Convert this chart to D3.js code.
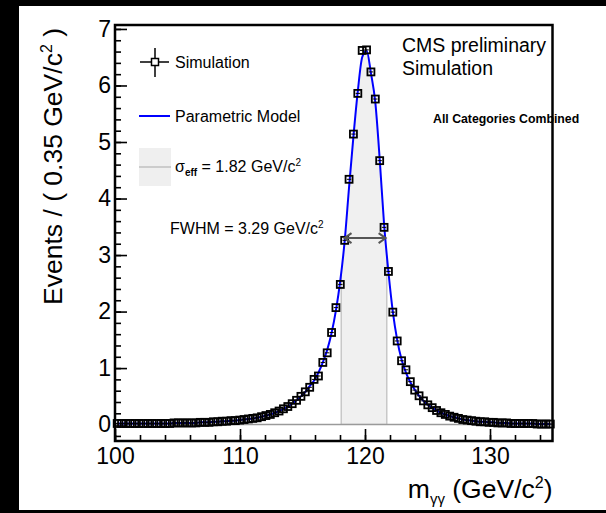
<!DOCTYPE html>
<html>
<head>
<meta charset="utf-8">
<script src="https://cdn.jsdelivr.net/npm/d3@7"></script>
<style>
    body { margin: 0; background: #000; }
    #chart { width: 606px; height: 513px; }
    text { font-family: "Liberation Sans", Arial, sans-serif; fill: #000; }
</style>
</head>
<body>
<div id="chart"></div>
<script>
// bins of 0.35 GeV between 100 and 135
const massLo = 100, massHi = 135, binWidth = 0.35;

// simulated events per bin
const simValues = [
    0.02, 0.02, 0.02, 0.02, 0.02, 0.02, 0.02, 0.02, 0.02, 0.02,
    0.02, 0.02, 0.02, 0.03, 0.03, 0.03, 0.03, 0.03, 0.03, 0.04,
    0.04, 0.04, 0.05, 0.05, 0.06, 0.06, 0.07, 0.07, 0.08, 0.09,
    0.10, 0.11, 0.12, 0.14, 0.16, 0.18, 0.21, 0.24, 0.28, 0.32,
    0.37, 0.43, 0.50, 0.58, 0.66, 0.80, 0.86, 1.10, 1.27, 1.63,
    2.07, 2.48, 3.26, 4.34, 5.14, 5.86, 6.62, 6.63, 6.24, 5.76,
    4.67, 3.49, 2.71, 1.99, 1.48, 1.13, 0.97, 0.76, 0.61, 0.51,
    0.42, 0.35, 0.30, 0.25, 0.21, 0.18, 0.15, 0.13, 0.11, 0.09,
    0.08, 0.07, 0.06, 0.05, 0.05, 0.04, 0.04, 0.03, 0.03, 0.03,
    0.02, 0.02, 0.02, 0.02, 0.02, 0.02, 0.01, 0.01, 0.01, 0.01
];

// parametric model evaluated at the bin centres
const modelValues = [
    0.02, 0.02, 0.02, 0.02, 0.02, 0.02, 0.02, 0.02, 0.02, 0.02,
    0.02, 0.02, 0.02, 0.03, 0.03, 0.03, 0.03, 0.03, 0.03, 0.04,
    0.04, 0.04, 0.05, 0.05, 0.06, 0.06, 0.07, 0.07, 0.08, 0.09,
    0.10, 0.11, 0.12, 0.14, 0.16, 0.18, 0.21, 0.24, 0.28, 0.32,
    0.37, 0.43, 0.50, 0.58, 0.68, 0.78, 0.92, 1.10, 1.32, 1.62,
    2.02, 2.55, 3.25, 4.20, 5.10, 5.90, 6.50, 6.62, 6.22, 5.70,
    4.70, 3.55, 2.70, 2.00, 1.50, 1.15, 0.92, 0.75, 0.62, 0.51,
    0.42, 0.35, 0.30, 0.25, 0.21, 0.18, 0.15, 0.13, 0.11, 0.09,
    0.08, 0.07, 0.06, 0.05, 0.05, 0.04, 0.04, 0.03, 0.03, 0.03,
    0.02, 0.02, 0.02, 0.02, 0.02, 0.02, 0.01, 0.01, 0.01, 0.01
];

const xTicks = [100, 110, 120, 130];
const yTicks = [0, 1, 2, 3, 4, 5, 6, 7];

// sigma_eff band and FWHM arrow
const sigmaBand = [118.1, 121.74];
const fwhmRange = [118.36, 121.65];
const halfMax = 3.3;

class MassVis {

    constructor(parentElement) {
        this.parentElement = parentElement;
        this.data = simValues.map((v, i) => ({
            m: massLo + binWidth * (i + 0.5),
            sim: v,
            model: modelValues[i]
        }));
        this.initVis();
    }

    initVis() {
        let vis = this;

        vis.margin = {top: 25, right: 53.5, bottom: 72, left: 115};
        vis.width = 606 - vis.margin.left - vis.margin.right;
        vis.height = 513 - vis.margin.top - vis.margin.bottom;

        vis.root = d3.select("#" + vis.parentElement).append("svg")
            .attr("width", 606)
            .attr("height", 513);

        // white canvas inside black border
        vis.root.append("rect")
            .attr("width", 606).attr("height", 513).attr("fill", "#000");
        vis.root.append("rect")
            .attr("x", 19).attr("y", 6)
            .attr("width", 587).attr("height", 504)
            .attr("fill", "#fff");

        vis.svg = vis.root.append("g")
            .attr("transform", `translate(${vis.margin.left}, ${vis.margin.top})`);

        vis.x = d3.scaleLinear()
            .domain([massLo, massHi])
            .range([0, vis.width]);

        vis.y = d3.scaleLinear()
            .domain([-0.29, 7.07])
            .range([vis.height, 0]);

        vis.drawAxes();
        vis.drawCurves();
        vis.drawLegend();
    }

    drawAxes() {
        let vis = this;

        // minor ticks
        vis.svg.append("g")
            .attr("class", "x-minor")
            .attr("transform", `translate(0, ${vis.height})`)
            .call(d3.axisBottom(vis.x).tickValues(d3.range(massLo, massHi + 0.01, 2)).tickSize(-6).tickFormat(""));

        vis.svg.append("g")
            .attr("class", "y-minor")
            .call(d3.axisLeft(vis.y).tickValues(d3.range(-0.2, 7.01, 0.2)).tickSize(-6).tickFormat(""));

        // major ticks
        vis.xAxis = vis.svg.append("g")
            .attr("class", "x-axis")
            .attr("transform", `translate(0, ${vis.height})`)
            .call(d3.axisBottom(vis.x).tickValues(xTicks).tickSize(-12).tickPadding(7).tickFormat(d3.format("d")));

        vis.yAxis = vis.svg.append("g")
            .attr("class", "y-axis")
            .call(d3.axisLeft(vis.y).tickValues(yTicks).tickSize(-12).tickPadding(4).tickFormat(d3.format("d")));

        vis.svg.selectAll(".domain").remove();
        vis.svg.selectAll(".tick line")
            .attr("stroke", "#000")
            .attr("stroke-width", 1.6);
        vis.svg.selectAll(".x-axis text, .y-axis text")
            .style("font-size", "23px")
            .attr("fill", "#000");

        // axis titles
        let xt = vis.svg.append("text")
            .attr("x", vis.width)
            .attr("y", vis.height + 57)
            .attr("text-anchor", "end")
            .style("font-size", "26.5px");
        xt.append("tspan").text("m");
        xt.append("tspan").attr("dy", 6).style("font-size", "15px").text("γγ");
        xt.append("tspan").attr("dy", -6).text(" (GeV/c");
        xt.append("tspan").attr("dy", -10).style("font-size", "16px").text("2");
        xt.append("tspan").attr("dy", 10).text(")");

        let yt = vis.svg.append("text")
            .attr("transform", `translate(${62 - vis.margin.left}, 3) rotate(-90)`)
            .attr("text-anchor", "end")
            .style("font-size", "26.5px");
        yt.append("tspan").text("Events / ( 0.35 GeV/c");
        yt.append("tspan").attr("dy", -10).style("font-size", "16px").text("2");
        yt.append("tspan").attr("dy", 10).text(" )");
    }

    drawCurves() {
        let vis = this;

        vis.clip = vis.svg.append("clipPath").attr("id", "under-model")
            .append("path")
            .datum(vis.data)
            .attr("d", d3.area()
                .x(d => vis.x(d.m))
                .y0(vis.y(0))
                .y1(d => vis.y(d.model))
                .curve(d3.curveMonotoneX));

        // sigma_eff band under the model
        vis.svg.append("rect")
            .attr("clip-path", "url(#under-model)")
            .attr("x", vis.x(sigmaBand[0]))
            .attr("y", 0)
            .attr("width", vis.x(sigmaBand[1]) - vis.x(sigmaBand[0]))
            .attr("height", vis.y(0))
            .attr("fill", "#f0f0f0")
            .attr("stroke", "#c8c8c8")
            .attr("stroke-width", 1.5);

        // baseline of the filled pdf
        vis.svg.append("line")
            .attr("x1", 0).attr("x2", vis.width)
            .attr("y1", vis.y(0)).attr("y2", vis.y(0))
            .attr("stroke", "#9a9a9a")
            .attr("stroke-width", 1.5);

        // model curve
        vis.svg.append("path")
            .datum(vis.data)
            .attr("fill", "none")
            .attr("stroke", "#0000ff")
            .attr("stroke-width", 2)
            .attr("d", d3.line()
                .x(d => vis.x(d.m))
                .y(d => vis.y(d.model))
                .curve(d3.curveMonotoneX));

        // simulation points: bin-width error bars + open squares
        let pts = vis.svg.append("g").attr("class", "points")
            .selectAll("g")
            .data(vis.data)
            .enter().append("g")
            .attr("transform", d => `translate(${vis.x(d.m)}, ${vis.y(d.sim)})`);

        pts.append("line")
            .attr("x1", -vis.x(massLo + binWidth / 2) + vis.x(massLo))
            .attr("x2", vis.x(massLo + binWidth / 2) - vis.x(massLo))
            .attr("stroke", "#000").attr("stroke-width", 1);

        pts.append("rect")
            .attr("x", -3.5).attr("y", -3.5)
            .attr("width", 7).attr("height", 7)
            .attr("fill", "none")
            .attr("stroke", "#000")
            .attr("stroke-width", 1.8);

        // FWHM arrow
        let ay = vis.y(halfMax);
        let ax0 = vis.x(fwhmRange[0]), ax1 = vis.x(fwhmRange[1]);
        vis.svg.append("path")
            .attr("d", `M${ax0},${ay}H${ax1}M${ax0 + 7},${ay - 5}L${ax0},${ay}L${ax0 + 7},${ay + 5}M${ax1 - 7},${ay - 5}L${ax1},${ay}L${ax1 - 7},${ay + 5}`)
            .attr("fill", "none")
            .attr("stroke", "#555")
            .attr("stroke-width", 2);
    }

    drawLegend() {
        let vis = this;
        let L = vis.root.append("g").style("font-size", "16px");

        // Simulation marker
        L.append("line").attr("x1", 140).attr("x2", 169).attr("y1", 62).attr("y2", 62)
            .attr("stroke", "#000").attr("stroke-width", 1.5);
        L.append("line").attr("x1", 155).attr("x2", 155).attr("y1", 48).attr("y2", 77)
            .attr("stroke", "#000").attr("stroke-width", 1.5);
        L.append("rect").attr("x", 151.5).attr("y", 58.5).attr("width", 7).attr("height", 7)
            .attr("fill", "#fff").attr("stroke", "#000").attr("stroke-width", 1.5);
        L.append("text").attr("x", 175).attr("y", 68).text("Simulation");

        // model line
        L.append("line").attr("x1", 139).attr("x2", 170).attr("y1", 116).attr("y2", 116)
            .attr("stroke", "#0000ff").attr("stroke-width", 2);
        L.append("text").attr("x", 175).attr("y", 122).text("Parametric Model");

        // sigma_eff box
        L.append("rect").attr("x", 139).attr("y", 148).attr("width", 32).attr("height", 38)
            .attr("fill", "#efefef");
        L.append("line").attr("x1", 139).attr("x2", 171).attr("y1", 167).attr("y2", 167)
            .attr("stroke", "#c0c0c0").attr("stroke-width", 1.5);
        let s = L.append("text").attr("x", 175).attr("y", 172);
        s.append("tspan").text("σ");
        s.append("tspan").attr("dy", 4).style("font-size", "10px").style("font-weight", "bold").text("eff");
        s.append("tspan").attr("dy", -4).text(" = 1.82 GeV/c");
        s.append("tspan").attr("dy", -6).style("font-size", "10px").text("2");

        let f = L.append("text").attr("x", 170).attr("y", 234);
        f.append("tspan").text("FWHM = 3.29 GeV/c");
        f.append("tspan").attr("dy", -6).style("font-size", "10px").text("2");

        // labels top right
        L.append("text").attr("x", 402).attr("y", 52).style("font-size", "19.5px").text("CMS preliminary");
        L.append("text").attr("x", 402).attr("y", 75).style("font-size", "19.5px").text("Simulation");
        L.append("text").attr("x", 433).attr("y", 123)
            .style("font-size", "12.3px").style("font-weight", "bold")
            .text("All Categories Combined");

        // frame drawn last, over the label that runs past it
        vis.root.append("rect")
            .attr("x", vis.margin.left).attr("y", vis.margin.top)
            .attr("width", vis.width)
            .attr("height", vis.height)
            .attr("fill", "none")
            .attr("stroke", "#000")
            .attr("stroke-width", 2.5);
    }
}

new MassVis("chart");
</script>
</body>
</html>
